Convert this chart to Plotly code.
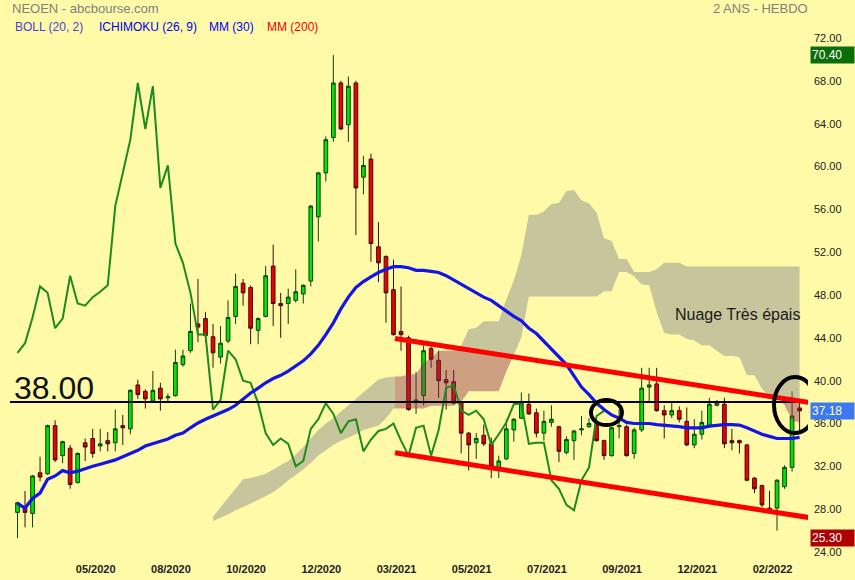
import plotly.graph_objects as go
import pandas as pd

# ---------------- data ----------------
START = "2020-03-16"          # first weekly candle
N = 105
dates = pd.date_range(START, periods=N, freq="7D")

opens = [27.7, 28.1, 27.6, 31.4, 31.3, 35.8, 33.0, 33.7, 30.5, 34.2,
         34.6, 33.9, 34.4, 34.2, 35.8, 35.5, 39.6, 39.0, 38.1, 39.3,
         38.4, 38.6, 41.5, 42.8, 45.3, 45.8, 44.1, 42.2, 43.7, 46.0,
         49.1, 48.7, 44.7, 46.0, 50.7, 47.2, 47.2, 47.5, 48.1, 49.3,
         55.3, 59.4, 62.7, 67.8, 63.9, 67.8, 59.0, 60.7, 52.5, 51.6,
         48.5, 44.6, 44.0, 38.0, 38.6, 43.0, 41.9, 40.1, 39.9, 37.9,
         35.1, 34.2, 34.9, 34.1, 31.9, 32.7, 35.4, 36.5, 37.8, 37.0,
         35.1, 36.1, 35.7, 33.3, 34.4, 35.4, 35.7, 35.8, 34.4, 33.0,
         35.7, 35.7, 33.2, 35.4, 39.4, 39.7, 37.2, 36.8, 37.2, 36.2,
         34.0, 35.0, 35.8, 37.7, 37.8, 34.4, 34.4, 34.0, 30.9, 30.2,
         28.1, 28.1, 30.1, 31.9, 37.45]
highs = [28.7, 29.7, 31.2, 32.9, 35.9, 36.3, 34.4, 34.0, 33.3, 34.6,
         35.5, 35.5, 35.2, 37.3, 36.8, 39.2, 40.1, 39.2, 40.9, 39.8,
         38.8, 42.9, 42.9, 47.2, 49.5, 46.4, 45.3, 45.1, 47.5, 50.0,
         49.5, 48.9, 45.9, 50.7, 52.7, 48.2, 48.6, 50.4, 49.0, 56.4,
         59.5, 62.8, 70.4, 68.0, 68.4, 68.0, 61.0, 61.2, 54.8, 51.7,
         51.3, 48.8, 44.2, 40.8, 43.3, 43.5, 42.8, 41.0, 41.0, 38.0,
         35.2, 35.1, 35.9, 34.7, 33.0, 36.4, 36.5, 38.9, 38.8, 37.4,
         37.2, 37.7, 35.8, 34.8, 35.4, 36.7, 36.5, 36.5, 34.5, 35.7,
         37.3, 35.9, 35.6, 41.2, 41.2, 41.2, 37.7, 38.0, 37.6, 37.5,
         36.4, 37.2, 38.4, 38.2, 38.4, 35.5, 34.5, 34.1, 31.0, 30.3,
         29.7, 30.8, 32.1, 39.0, 38.1]
lows = [25.3, 26.3, 26.3, 30.6, 31.2, 32.4, 32.3, 29.9, 30.4, 32.5,
        32.8, 33.4, 33.4, 33.4, 34.0, 35.0, 38.3, 37.4, 38.0, 37.2,
        38.0, 38.5, 41.3, 42.6, 43.6, 43.6, 41.2, 41.6, 43.5, 45.3,
        47.0, 43.4, 43.4, 45.9, 45.1, 44.0, 45.3, 47.3, 47.2, 48.8,
        53.0, 58.6, 62.3, 63.4, 62.3, 53.6, 57.4, 51.1, 49.2, 45.4,
        44.2, 42.8, 37.2, 36.9, 37.7, 41.2, 38.4, 37.3, 37.8, 33.2,
        31.6, 32.7, 33.9, 30.9, 30.9, 32.6, 34.3, 36.4, 36.8, 34.7,
        34.4, 35.7, 32.4, 33.1, 32.6, 34.9, 35.6, 34.3, 32.6, 32.9,
        34.6, 32.9, 32.7, 35.2, 38.1, 37.1, 34.6, 36.5, 36.1, 33.9,
        33.7, 34.5, 35.7, 37.6, 33.7, 33.5, 33.2, 30.6, 29.5, 28.2,
        27.7, 26.0, 29.9, 31.5, 35.1]
closes = [28.6, 27.7, 31.1, 31.0, 35.8, 32.6, 34.3, 30.3, 33.2, 33.8,
          33.2, 34.1, 34.1, 35.5, 35.6, 39.1, 38.7, 38.3, 39.1, 38.3,
          38.5, 41.7, 42.3, 44.6, 45.0, 44.2, 42.6, 43.5, 45.9, 48.8,
          48.2, 44.9, 45.8, 49.8, 47.2, 47.0, 47.8, 48.3, 48.9, 56.3,
          59.4, 62.5, 67.8, 63.5, 67.5, 58.0, 60.1, 52.8, 51.0, 48.2,
          44.3, 44.3, 37.3, 38.2, 42.8, 42.0, 40.0, 39.8, 37.9, 35.1,
          34.0, 34.6, 34.1, 32.0, 32.5, 35.5, 36.4, 37.9, 36.9, 35.1,
          36.2, 36.4, 33.4, 34.5, 35.3, 35.5, 36.0, 34.4, 33.0, 35.6,
          35.8, 33.0, 35.4, 39.3, 39.6, 37.2, 36.8, 37.2, 36.4, 34.0,
          35.0, 36.1, 37.8, 37.9, 34.1, 34.2, 34.2, 30.7, 29.9, 28.4,
          27.9, 30.7, 31.9, 36.7, 37.18]

# moving average 30 weeks
ma30 = [28.55, 28.1, 29.0, 29.5, 30.8, 31.1, 31.6, 31.4, 31.55, 31.8,
        32.0, 32.2, 32.4, 32.6, 32.9, 33.2, 33.5, 33.9, 34.1, 34.3,
        34.55, 34.9, 35.1, 35.6, 36.05, 36.4, 36.7, 37.0, 37.3, 37.7,
        38.3, 38.85, 39.3, 39.8, 40.2, 40.5, 40.9, 41.4, 41.85, 42.5,
        43.3, 44.3, 45.4, 46.7, 47.8, 48.7, 49.25, 49.7, 50.1, 50.4,
        50.65, 50.65, 50.55, 50.3, 50.3, 50.2, 50.1, 49.8, 49.4, 49.0,
        48.6, 48.2, 47.8, 47.5, 47.0, 46.5, 46.0, 45.6, 44.9, 44.4,
        43.7, 42.9, 42.2, 41.5, 40.45, 39.4, 38.7, 37.9, 37.3, 36.8,
        36.5, 36.1, 36.0, 36.0, 36.0, 35.9, 35.85, 35.75, 35.7, 35.6,
        35.6, 35.6, 35.75, 35.85, 35.9, 35.9, 35.85, 35.6, 35.3, 35.0,
        34.8, 34.6, 34.6, 34.6, 34.7]

# Ichimoku: chikou = close displayed 26 weeks back; cloud spans from candle 26
KIJUN = 26
chikou = closes[KIJUN:]
cloud_start = 26
span_a = [27.3, 28.2, 29.0, 30.0, 30.8, 30.9, 31.1, 31.3, 31.7, 32.1,
          32.5, 33.1, 33.8, 34.6, 35.4, 36.0, 36.5, 37.1, 37.7, 38.3,
          38.95, 39.5, 40.1, 40.3,
          40.4, 40.4, 40.6, 40.6, 41.7, 42.1, 42.8, 42.8, 42.8, 43.25,
          44.8, 44.95, 45.55, 45.55, 45.55, 47.55, 49.35, 51.7, 55.5, 55.5,
          55.8, 56.5, 56.6, 57.7, 57.8, 56.85, 56.55, 55.7, 53.3, 53.05,
          51.35, 51.35, 49.75, 48.98, 48.9, 46.4, 44.45, 44.3, 44.3, 43.9,
          43.75, 43.3, 43.3, 42.8, 42.3, 42.3, 42.2, 40.5, 40.5, 39.25,
          38.5, 38.4, 37.7, 36.3, 36.1]
span_b = [26.9, 27.2, 27.5, 27.9, 28.2, 28.5, 28.85, 29.2, 29.6, 30.1,
          30.7, 31.2, 31.7, 32.3, 33.0, 33.5, 34.0, 34.4, 34.7, 35.0,
          35.4, 35.6, 35.8, 36.5,
          37.4, 37.4, 37.4, 37.4, 37.4, 37.65, 37.65, 37.65, 37.65, 38.0,
          39.0, 39.0, 39.0, 39.0, 39.0, 40.85, 42.4, 44.05, 47.85, 47.85,
          47.85, 47.85, 47.85, 47.85, 47.85, 47.85, 47.85, 47.85, 48.35, 48.35,
          50.15, 50.15, 50.15, 50.15, 50.15, 50.4, 51.0, 51.0, 51.0, 50.65,
          50.65, 50.65, 50.65, 50.65, 50.65, 50.65, 50.65, 50.65, 50.65, 50.65,
          50.65, 50.65, 50.65, 50.65, 50.65]

# user drawings (week index, price)
chan_x = [50.2, 105.4]
chan_upper = [43.93, 37.95]
chan_lower = [33.27, 27.2]
circle1 = ([76.26, 80.38], [35.85, 38.19])
circle2 = ([100.6, 106.2], [35.11, 40.34])
level_38 = 38.00

tick_idx = [10, 20, 30, 40, 50, 60, 70, 80, 90, 100]
tick_text = ["05/2020", "08/2020", "10/2020", "12/2020", "03/2021",
             "05/2021", "07/2021", "09/2021", "12/2021", "02/2022"]
y_ticks = list(range(24, 73, 4))

price_high, price_last, price_low = 70.40, 37.18, 25.30

# ---------------- helpers ----------------
t0 = pd.Timestamp(START)


def to_date(i):
    return t0 + pd.Timedelta(days=7 * i)


def clip(poly, f):
    out = []
    n = len(poly)
    for k in range(n):
        p, q = poly[k], poly[(k + 1) % n]
        fp, fq = f(p), f(q)
        if fp >= 0:
            out.append(p)
        if (fp >= 0) != (fq >= 0):
            t = fp / (fp - fq)
            out.append((p[0] + t * (q[0] - p[0]), p[1] + t * (q[1] - p[1])))
    return out


idx_cloud = list(range(cloud_start, cloud_start + len(span_a)))
top = [max(a, b) for a, b in zip(span_a, span_b)]
bot = [min(a, b) for a, b in zip(span_a, span_b)]
cloud_poly = list(zip(idx_cloud, top)) + list(zip(idx_cloud[::-1], bot[::-1]))

slope = (chan_upper[1] - chan_upper[0]) / (chan_x[1] - chan_x[0])


def upper_line(x):
    return chan_upper[0] + (x - chan_x[0]) * slope


xs = chan_x[0]
brown = clip(clip(cloud_poly, lambda p: p[0] - xs), lambda p: upper_line(p[0]) - p[1])
gray1 = clip(cloud_poly, lambda p: xs - p[0])
gray2 = clip(clip(cloud_poly, lambda p: p[0] - xs), lambda p: p[1] - upper_line(p[0]))

# ---------------- figure ----------------
BG = "#FFFAA8"
FONT = "Liberation Sans, Arial, sans-serif"
fig = go.Figure()

fig.add_trace(go.Candlestick(
    x=dates, open=opens, high=highs, low=lows, close=closes,
    increasing=dict(fillcolor="#00E400", line=dict(color="#0B3F0B", width=1)),
    decreasing=dict(fillcolor="#EE0000", line=dict(color="#3F0B0B", width=1)),
    whiskerwidth=0, hoverinfo="skip", showlegend=False))


def poly_trace(poly, color):
    if not poly:
        return
    fig.add_trace(go.Scatter(
        x=[to_date(p[0]) for p in poly] + [to_date(poly[0][0])],
        y=[p[1] for p in poly] + [poly[0][1]],
        mode="lines", fill="toself", fillcolor=color,
        line=dict(width=0), hoverinfo="skip", showlegend=False))


GRAY = "rgba(128,130,140,0.44)"
BROWN = "rgba(141,45,82,0.44)"
poly_trace(gray1, GRAY)
poly_trace(gray2, GRAY)
poly_trace(brown, BROWN)

fig.add_trace(go.Scatter(x=dates[:len(chikou)], y=chikou, mode="lines",
                         line=dict(color="#1E8A1E", width=2),
                         hoverinfo="skip", showlegend=False))
fig.add_trace(go.Scatter(x=dates, y=ma30, mode="lines",
                         line=dict(color="#1414E6", width=3.2),
                         hoverinfo="skip", showlegend=False))

shapes = [
    dict(type="line", xref="paper", x0=0, x1=1, yref="y", y0=level_38, y1=level_38,
         line=dict(color="black", width=2)),
    dict(type="line", xref="x", yref="y", x0=to_date(chan_x[0]), x1=to_date(chan_x[1]),
         y0=chan_upper[0], y1=chan_upper[1], line=dict(color="#FF0000", width=5)),
    dict(type="line", xref="x", yref="y", x0=to_date(chan_x[0]), x1=to_date(chan_x[1]),
         y0=chan_lower[0], y1=chan_lower[1], line=dict(color="#FF0000", width=5)),
    dict(type="circle", xref="x", yref="y", x0=to_date(circle1[0][0]), x1=to_date(circle1[0][1]),
         y0=circle1[1][0], y1=circle1[1][1], line=dict(color="black", width=4)),
    dict(type="circle", xref="x", yref="y", x0=to_date(circle2[0][0]), x1=to_date(circle2[0][1]),
         y0=circle2[1][0], y1=circle2[1][1], line=dict(color="black", width=4)),
]

ann = [
    dict(text="NEOEN - abcbourse.com", xref="paper", yref="paper", x=0, y=1,
         xanchor="left", yanchor="middle", xshift=0, yshift=12,
         font=dict(size=13, color="#808080", family=FONT), showarrow=False),
    dict(text="2 ANS - HEBDO", xref="paper", yref="paper", x=1, y=1,
         xanchor="right", yanchor="middle", xshift=2, yshift=12,
         font=dict(size=13, color="#808080", family=FONT), showarrow=False),
    dict(text="38.00", xref="paper", yref="y", x=0, y=level_38, xanchor="left",
         yanchor="bottom", xshift=2, yshift=-6,
         font=dict(size=32, color="#111111", family=FONT), showarrow=False),
    dict(text="Nuage Très épais", xref="x", yref="y", x=to_date(95.7), y=46.2,
         xanchor="center", yanchor="middle",
         font=dict(size=16, color="#1a1a1a", family=FONT), showarrow=False),
]
legend_items = [("BOLL (20, 2)", "#4444D8", 3), ("ICHIMOKU (26, 9)", "#0000E6", 87),
                ("MM (30)", "#0000FF", 197), ("MM (200)", "#EE0000", 255)]
for txt, col, px in legend_items:
    ann.append(dict(text=txt, xref="paper", yref="paper", x=px / 798, y=1,
                    xanchor="left", yanchor="middle", yshift=-7,
                    font=dict(size=12, color=col, family=FONT), showarrow=False))
for val, col in [(price_high, "#0A6E0A"), (price_last, "#3C78F0"), (price_low, "#B00000")]:
    ann.append(dict(text=f"{val:.2f}", xref="paper", yref="y", x=1, y=val,
                    xanchor="left", yanchor="middle", xshift=2, width=41, align="left",
                    bgcolor=col, borderpad=1,
                    font=dict(size=12, color="white", family=FONT), showarrow=False))

fig.update_layout(
    width=855, height=580,
    margin=dict(l=10, r=47, t=20, b=25, autoexpand=False),
    paper_bgcolor=BG, plot_bgcolor=BG,
    shapes=shapes, annotations=ann, showlegend=False,
    xaxis=dict(type="date", range=[to_date(-0.997), to_date(105.12)],
               rangeslider=dict(visible=False), showgrid=False, zeroline=False,
               tickvals=[dates[i] for i in tick_idx],
               ticktext=[f"<b>{t}</b>" for t in tick_text],
               tickfont=dict(size=11, color="#222222", family=FONT),
               ticklabelstandoff=6, ticklabelshift=3, automargin=False,
               ticks="", showline=False),
    yaxis=dict(side="right", range=[23.72, 73.68], showgrid=False, zeroline=False,
               tickvals=y_ticks, ticktext=[f"{v:.2f}" for v in y_ticks],
               tickfont=dict(size=11, color="#222222", family=FONT),
               ticklabelstandoff=5, automargin=False, ticks="", showline=False),
)

# remove the default page margin so that the 855x580 figure fills the window
fig.write_html("out.html",
               config={"displayModeBar": False},
               post_script="document.body.style.margin='0px';"
                           "document.body.style.background='#FFFAA8';")
